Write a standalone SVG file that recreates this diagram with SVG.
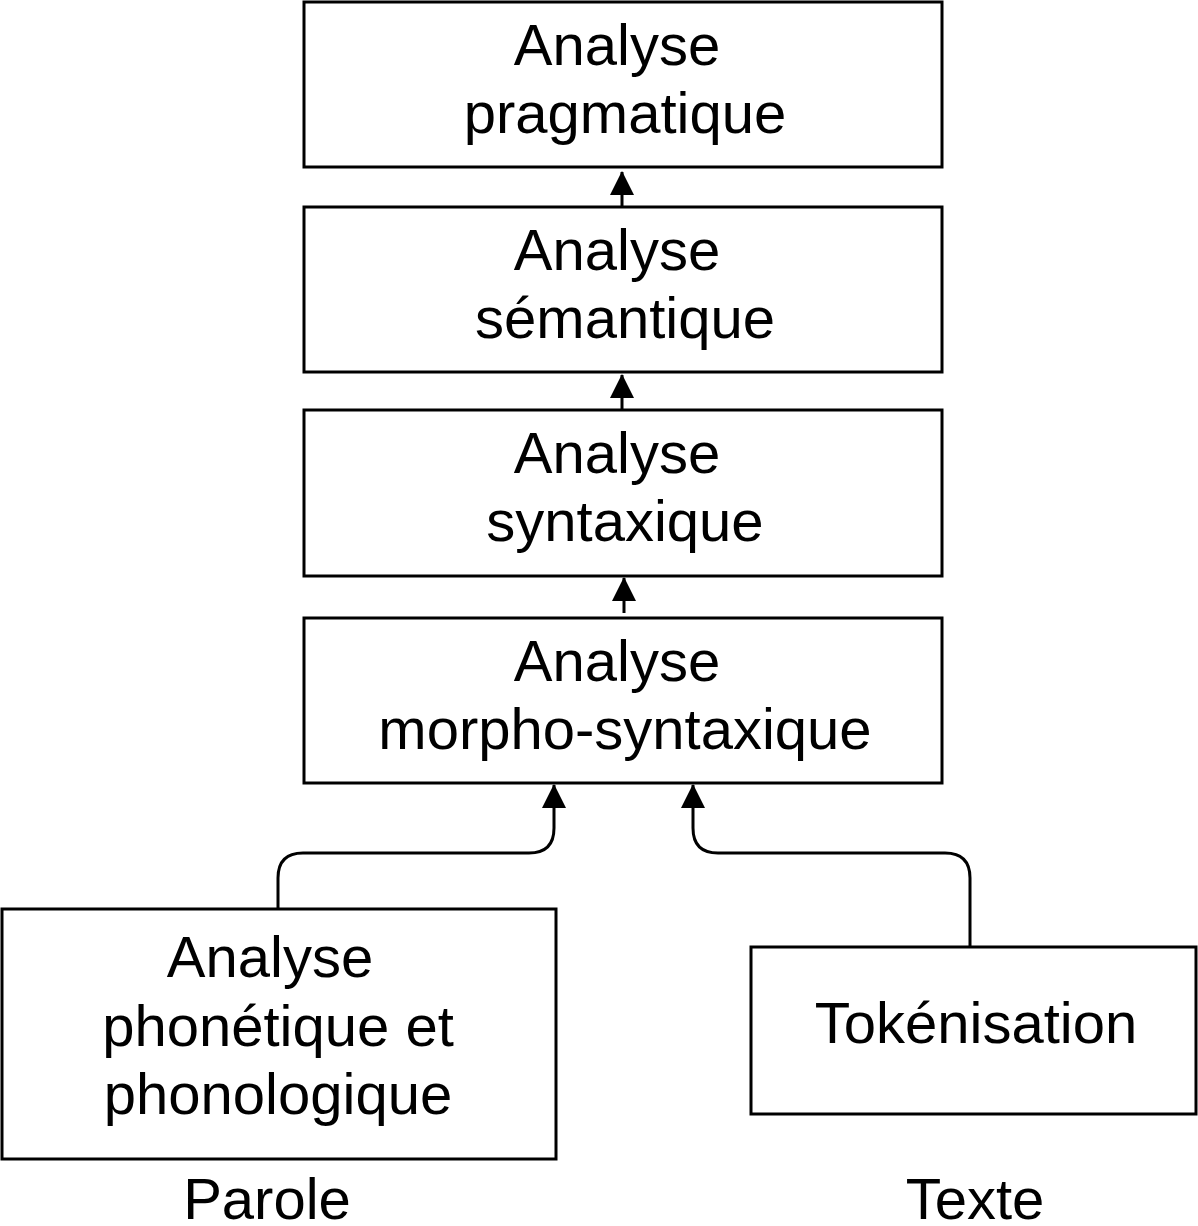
<svg xmlns="http://www.w3.org/2000/svg" width="1198" height="1226" viewBox="0 0 1198 1226">
<style>
.box{fill:#fff;stroke:#000;stroke-width:3}
.t{font-family:"Liberation Sans",Arial,sans-serif;font-size:58px;fill:#000;text-anchor:middle}
.c{fill:none;stroke:#000;stroke-width:3}
</style>
<defs>
<marker id="ah" markerUnits="userSpaceOnUse" markerWidth="24" markerHeight="24" refX="23" refY="12" orient="auto" viewBox="0 0 24 24">
<path d="M0,0 L24,12 L0,24 Z" fill="#000"/>
</marker>
</defs>
<rect width="1198" height="1226" fill="#fff"/>
<g id="connectors">
<path class="c" d="M622,206 V172" marker-end="url(#ah)"/>
<path class="c" d="M622,409 V375" marker-end="url(#ah)"/>
<path class="c" d="M624,613 V578" marker-end="url(#ah)"/>
<path class="c" d="M278,909 V878 Q278,853 303,853 H529 Q554,853 554,828 V785" marker-end="url(#ah)"/>
<path class="c" d="M970,947 V878 Q970,853 945,853 H718 Q693,853 693,828 V785" marker-end="url(#ah)"/>
</g>
<g id="pragmatique">
<rect class="box" x="304" y="2" width="638" height="165"/>
<text class="t" x="617" y="65">Analyse</text>
<text class="t" x="625" y="133">pragmatique</text>
</g>
<g id="semantique">
<rect class="box" x="304" y="207" width="638" height="165"/>
<text class="t" x="617" y="270">Analyse</text>
<text class="t" x="625" y="338">sémantique</text>
</g>
<g id="syntaxique">
<rect class="box" x="304" y="410" width="638" height="166"/>
<text class="t" x="617" y="473">Analyse</text>
<text class="t" x="625" y="541">syntaxique</text>
</g>
<g id="morpho">
<rect class="box" x="304" y="618" width="638" height="165"/>
<text class="t" x="617" y="681">Analyse</text>
<text class="t" x="625" y="749">morpho-syntaxique</text>
</g>
<g id="phonetique">
<rect class="box" x="2" y="909" width="554" height="250"/>
<text class="t" x="270" y="977">Analyse</text>
<text class="t" x="278" y="1046">phonétique et</text>
<text class="t" x="278" y="1114">phonologique</text>
</g>
<g id="tokenisation">
<rect class="box" x="751" y="947" width="445" height="167"/>
<text class="t" x="976" y="1043">Tokénisation</text>
</g>
<g id="labels">
<text class="t" x="267" y="1219">Parole</text>
<text class="t" x="975" y="1219">Texte</text>
</g>
</svg>
